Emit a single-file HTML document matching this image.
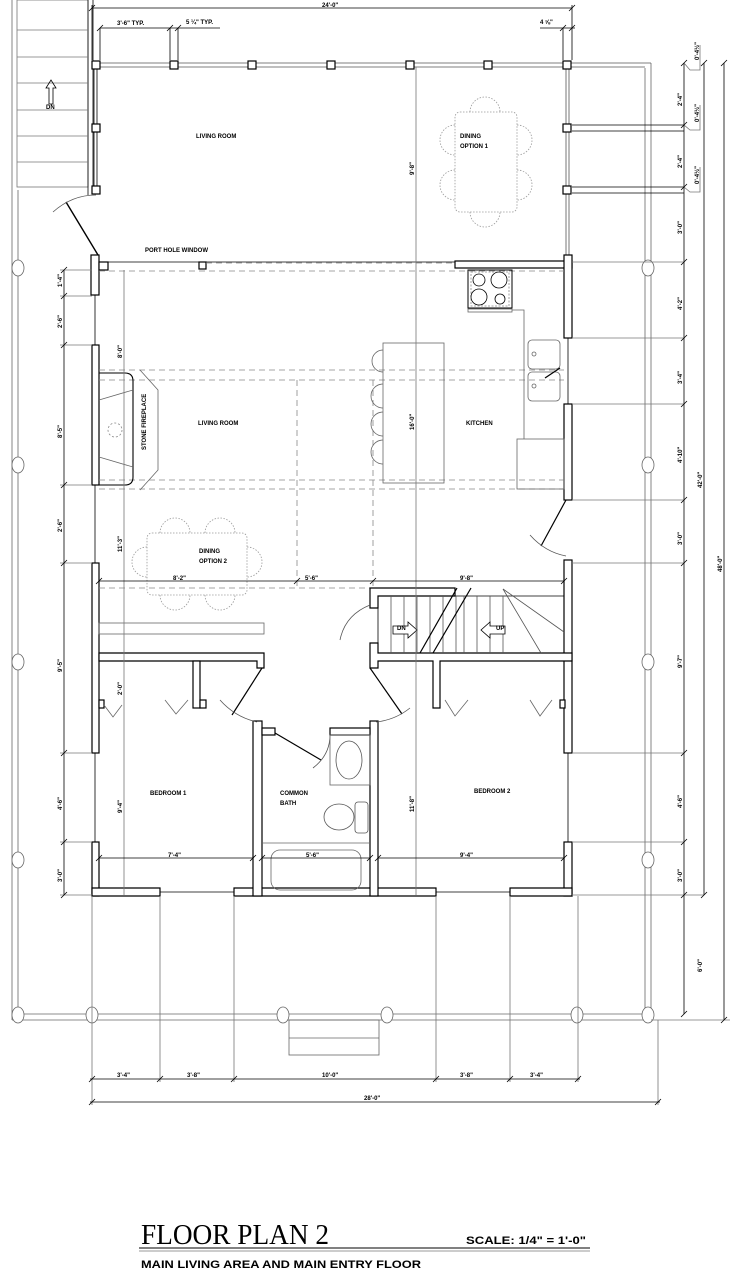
<!DOCTYPE html>
<html><head><meta charset="utf-8"><style>
html,body{margin:0;padding:0;background:#fff;}
svg{display:block;}
text{font-family:"Liberation Sans",sans-serif;font-weight:bold;fill:#000;}
</style></head><body>
<svg width="735" height="1270" viewBox="0 0 735 1270" xmlns="http://www.w3.org/2000/svg">
<defs>
<g id="tk"><line x1="-3" y1="3" x2="3" y2="-3" stroke="#000" stroke-width="0.8"/></g>
</defs>
<g fill="none" stroke="#000" stroke-width="0.8">
<rect x="17" y="0" width="71" height="187" stroke="#777"/>
<line x1="88" y1="0" x2="88" y2="195"/><line x1="93" y1="0" x2="93" y2="190"/>
<g stroke="#777"><line x1="17" y1="30" x2="88" y2="30"/><line x1="17" y1="57" x2="88" y2="57"/><line x1="17" y1="83" x2="88" y2="83"/><line x1="17" y1="110" x2="88" y2="110"/><line x1="17" y1="136" x2="88" y2="136"/><line x1="17" y1="162" x2="88" y2="162"/></g>
<path d="M49 104 V88 H46 L51 80 L56 88 H53 V104 Z"/>
<line x1="12" y1="0" x2="12" y2="1020" stroke="#666"/><line x1="18" y1="190" x2="18" y2="1014" stroke="#666"/>
<line x1="645" y1="68" x2="645" y2="1014" stroke="#666"/><line x1="651" y1="63" x2="651" y2="1020" stroke="#666"/>
<line x1="12" y1="1020" x2="651" y2="1020" stroke="#666"/><line x1="18" y1="1014" x2="645" y2="1014" stroke="#666"/>
<rect x="289" y="1020" width="90" height="35" stroke="#666"/><line x1="289" y1="1038" x2="379" y2="1038" stroke="#666"/>
<g fill="#fff" stroke="#666">
<ellipse cx="18" cy="268" rx="6" ry="8"/><ellipse cx="18" cy="465" rx="6" ry="8"/><ellipse cx="18" cy="662" rx="6" ry="8"/><ellipse cx="18" cy="860" rx="6" ry="8"/><ellipse cx="18" cy="1015" rx="6" ry="8"/>
<ellipse cx="648" cy="268" rx="6" ry="8"/><ellipse cx="648" cy="465" rx="6" ry="8"/><ellipse cx="648" cy="662" rx="6" ry="8"/><ellipse cx="648" cy="860" rx="6" ry="8"/><ellipse cx="648" cy="1015" rx="6" ry="8"/>
<ellipse cx="92" cy="1015" rx="6" ry="8"/><ellipse cx="283" cy="1015" rx="6" ry="8"/><ellipse cx="387" cy="1015" rx="6" ry="8"/><ellipse cx="577" cy="1015" rx="6" ry="8"/>
</g>
<line x1="96" y1="63" x2="651" y2="63" stroke="#555"/><line x1="96" y1="67" x2="645" y2="67" stroke="#555"/>
<line x1="94" y1="65" x2="94" y2="192"/><line x1="97" y1="65" x2="97" y2="192"/>
<line x1="566" y1="65" x2="566" y2="260" stroke="#555"/><line x1="569" y1="65" x2="569" y2="260" stroke="#555"/>
<line x1="572" y1="125" x2="684" y2="125"/><line x1="572" y1="131" x2="684" y2="131"/>
<line x1="572" y1="187" x2="684" y2="187"/><line x1="572" y1="193" x2="684" y2="193"/>
<g fill="#fff" stroke-width="1.2">
<rect x="92" y="61" width="8" height="8"/><rect x="170" y="61" width="8" height="8"/><rect x="248" y="61" width="8" height="8"/><rect x="327" y="61" width="8" height="8"/><rect x="406" y="61" width="8" height="8"/><rect x="484" y="61" width="8" height="8"/><rect x="563" y="61" width="8" height="8"/>
<rect x="92" y="124" width="8" height="8"/><rect x="92" y="186" width="8" height="8"/>
<rect x="563" y="124" width="8" height="8"/><rect x="563" y="186" width="8" height="8"/>
</g>
<g stroke="#999" stroke-dasharray="1.5,1.5">
<rect x="455" y="112" width="62" height="100" rx="5"/>
<path d="M470 112 A15 15 0 0 1 500 112"/><path d="M470 212 A15 15 0 0 0 500 212"/>
<path d="M455 125 A15 15 0 0 0 455 155"/><path d="M455 170 A15 15 0 0 0 455 200"/>
<path d="M517 125 A15 15 0 0 1 517 155"/><path d="M517 170 A15 15 0 0 1 517 200"/>
</g>
<line x1="98" y1="255" x2="66" y2="202" stroke-width="1.4"/>
<path d="M53 212 Q72 195 96 195" stroke="#555"/>
</g>
<g fill="#fff" stroke="#000" stroke-width="1.2">
<rect x="91" y="255" width="8" height="40"/><rect x="99" y="262" width="9" height="8"/>
<rect x="92" y="345" width="7" height="140"/><rect x="92" y="563" width="7" height="190"/><rect x="92" y="842" width="7" height="54"/>
<rect x="455" y="261" width="117" height="7"/>
<rect x="564" y="255" width="8" height="83"/><rect x="564" y="404" width="8" height="96"/><rect x="564" y="560" width="8" height="193"/><rect x="564" y="842" width="8" height="54"/>
<path d="M92 888 H160 V896 H92 Z"/><path d="M234 888 H436 V896 H234 Z"/><path d="M510 888 H572 V896 H510 Z"/>
<rect x="199" y="262" width="7" height="7"/>
</g>
<g fill="none" stroke="#000" stroke-width="0.8">
<line x1="95" y1="295" x2="95" y2="345"/><line x1="95" y1="485" x2="95" y2="563"/><line x1="95" y1="753" x2="95" y2="842"/>
<line x1="568" y1="338" x2="568" y2="404"/><line x1="568" y1="753" x2="568" y2="842"/>
<line x1="160" y1="892" x2="234" y2="892"/><line x1="436" y1="892" x2="510" y2="892"/>
<line x1="108" y1="262" x2="455" y2="262"/>
<g stroke="#888" stroke-dasharray="6,4"><line x1="206" y1="263" x2="455" y2="263"/><line x1="99" y1="271" x2="564" y2="271"/>
<line x1="99" y1="370" x2="564" y2="370"/><line x1="99" y1="380" x2="564" y2="380"/>
<line x1="99" y1="480" x2="564" y2="480"/><line x1="99" y1="489" x2="564" y2="489"/>
<line x1="297" y1="380" x2="297" y2="588"/><line x1="373" y1="380" x2="373" y2="588"/>
<line x1="99" y1="588" x2="373" y2="588"/></g>
<path d="M99 373 H125 Q133 373 133 381 V477 Q133 485 125 485 H99" stroke-width="1.1"/>
<path d="M140 370 L158 390 V470 L140 490" stroke="#666"/>
<line x1="99" y1="400" x2="133" y2="390" stroke="#666"/><line x1="99" y1="457" x2="133" y2="467" stroke="#666"/>
<circle cx="115" cy="430" r="7" stroke="#888" stroke-dasharray="2,2"/>
<rect x="468" y="270" width="44" height="38" stroke-width="1"/>
<rect x="471" y="272" width="38" height="34" stroke="#888" stroke-dasharray="2,1.5"/>
<circle cx="479" cy="280" r="6"/><circle cx="499" cy="280" r="8"/><circle cx="479" cy="297" r="8"/><circle cx="500" cy="299" r="5"/>
<rect x="468" y="309" width="44" height="3" stroke="#666"/>
<path d="M512 310 H524 V439" stroke="#666"/>
<rect x="528" y="340" width="32" height="29" rx="4" stroke="#666"/><rect x="528" y="372" width="32" height="29" rx="4" stroke="#666"/>
<circle cx="534" cy="354" r="2" stroke="#666"/><circle cx="534" cy="386" r="2" stroke="#666"/>
<path d="M545 378 L560 368" stroke-width="1.2"/>
<rect x="517" y="439" width="47" height="50" stroke="#666"/>
<rect x="383" y="343" width="61" height="140" stroke="#666"/>
<g stroke="#666"><path d="M383 350 A10 10 0 0 0 383 372"/><path d="M383 384 A10 10 0 0 0 383 408"/><path d="M383 412 A10 10 0 0 0 383 436"/><path d="M383 440 A10 10 0 0 0 383 464"/></g>
<line x1="566" y1="500" x2="541" y2="546" stroke-width="1.2"/>
<path d="M530 535 Q545 552 566 556" stroke="#555"/>
<g stroke="#999" stroke-dasharray="1.5,1.5">
<rect x="147" y="533" width="100" height="62" rx="5"/>
<path d="M160 533 A15 15 0 0 1 190 533"/><path d="M205 533 A15 15 0 0 1 235 533"/>
<path d="M160 595 A15 15 0 0 0 190 595"/><path d="M205 595 A15 15 0 0 0 235 595"/>
<path d="M147 547 A15 15 0 0 0 147 577"/><path d="M247 547 A15 15 0 0 1 247 577"/>
</g>
<rect x="99" y="623" width="165" height="11" stroke="#666"/>
</g>
<g fill="#fff" stroke="#000" stroke-width="1.2">
<path d="M99 653 H264 V668 H257 V661 H99 Z"/>
<rect x="193" y="661" width="7" height="47"/><rect x="200" y="700" width="6" height="8"/>
<rect x="99" y="700" width="5" height="8"/>
<path d="M370 588 H455 V596 H378 V608 H370 Z"/>
<path d="M370 643 H378 V653 H572 V661 H440 V708 H433 V661 H378 V668 H370 Z"/>
<rect x="560" y="700" width="5" height="8"/>
<rect x="253" y="721" width="9" height="175"/><rect x="262" y="728" width="13" height="7"/>
<rect x="370" y="721" width="8" height="175"/><rect x="330" y="728" width="40" height="7"/>
</g>
<g fill="none" stroke="#000" stroke-width="0.8">
<line x1="378" y1="596" x2="564" y2="596"/>
<line x1="378" y1="596" x2="378" y2="653"/>
<g stroke="#555"><line x1="391" y1="596" x2="391" y2="653"/><line x1="404" y1="596" x2="404" y2="653"/><line x1="417" y1="596" x2="417" y2="653"/><line x1="430" y1="596" x2="430" y2="653"/><line x1="443" y1="596" x2="443" y2="653"/><line x1="456" y1="596" x2="456" y2="653"/><line x1="464" y1="596" x2="464" y2="653"/><line x1="477" y1="596" x2="477" y2="653"/><line x1="490" y1="596" x2="490" y2="653"/><line x1="503" y1="596" x2="503" y2="653"/>
<line x1="503" y1="589" x2="564" y2="632"/><line x1="503" y1="589" x2="541" y2="653"/></g>
<path d="M457 588 L420 653" stroke-width="1.2"/><path d="M471 588 L433 653" stroke-width="1.2"/>
<path d="M393 626 H408 V622 L417 630 L408 638 V634 H393 Z" fill="#fff"/>
<path d="M505 626 H490 V622 L481 630 L490 638 V634 H505 Z" fill="#fff"/>
<line x1="262" y1="668" x2="232" y2="715" stroke-width="1.2"/><path d="M220 700 Q235 717 257 722" stroke="#555"/>
<line x1="370" y1="668" x2="402" y2="714" stroke-width="1.2"/><path d="M376 722 Q395 720 410 708" stroke="#555"/>
<path d="M370 605 Q345 615 340 640" stroke="#555"/>
<line x1="275" y1="733" x2="321" y2="760" stroke-width="1.2"/><path d="M330 735 Q330 755 313 768" stroke="#555"/>
<g stroke="#666"><path d="M104 705 L113 717 L122 705"/><path d="M165 700 L176 714 L188 700"/><path d="M445 700 L455 716 L468 700"/><path d="M530 700 L540 716 L552 700"/></g>
<rect x="330" y="735" width="40" height="50" stroke="#666"/>
<ellipse cx="349" cy="760" rx="13" ry="19" stroke="#555"/>
<rect x="355" y="802" width="13" height="31" rx="3" stroke="#555"/>
<ellipse cx="339" cy="817" rx="15" ry="13" stroke="#555"/>
<line x1="262" y1="843" x2="370" y2="843" stroke="#666"/>
<rect x="271" y="850" width="90" height="40" rx="9" stroke="#666"/>
<line x1="92" y1="8" x2="572" y2="8"/><line x1="92" y1="5" x2="92" y2="60"/><line x1="572" y1="5" x2="572" y2="60"/>
<line x1="100" y1="28" x2="220" y2="28"/><line x1="100" y1="28" x2="100" y2="60"/><line x1="170" y1="28" x2="170" y2="60"/><line x1="178" y1="28" x2="178" y2="60"/>
<line x1="540" y1="28" x2="575" y2="28"/><line x1="563" y1="28" x2="563" y2="60"/>
<line x1="124" y1="270" x2="124" y2="895" stroke="#777"/><line x1="416" y1="67" x2="416" y2="895" stroke="#777"/>
<line x1="64" y1="270" x2="64" y2="895"/>
<g stroke="#777"><line x1="60" y1="270" x2="92" y2="270"/><line x1="60" y1="296" x2="92" y2="296"/><line x1="60" y1="345" x2="92" y2="345"/><line x1="60" y1="485" x2="92" y2="485"/><line x1="60" y1="563" x2="92" y2="563"/><line x1="60" y1="753" x2="92" y2="753"/><line x1="60" y1="842" x2="92" y2="842"/><line x1="60" y1="895" x2="92" y2="895"/></g>
<line x1="99" y1="581" x2="564" y2="581"/>
<line x1="99" y1="858" x2="253" y2="858"/><line x1="262" y1="858" x2="370" y2="858"/><line x1="378" y1="858" x2="564" y2="858"/>
<line x1="684" y1="63" x2="684" y2="1014"/><line x1="704" y1="63" x2="704" y2="895"/><line x1="724" y1="63" x2="724" y2="1020"/>
<g stroke="#777"><line x1="572" y1="262" x2="684" y2="262"/><line x1="572" y1="338" x2="684" y2="338"/><line x1="572" y1="404" x2="684" y2="404"/><line x1="572" y1="500" x2="684" y2="500"/><line x1="572" y1="563" x2="684" y2="563"/><line x1="572" y1="753" x2="684" y2="753"/><line x1="572" y1="842" x2="684" y2="842"/><line x1="572" y1="895" x2="704" y2="895"/><line x1="651" y1="1020" x2="730" y2="1020"/>
<path d="M684 63 L690 70 H700 V45"/><path d="M684 125 L690 130 H700 V105"/><path d="M684 187 L690 192 H700 V167"/></g>
<g stroke="#777"><line x1="92" y1="896" x2="92" y2="1105"/><line x1="160" y1="896" x2="160" y2="1082"/><line x1="234" y1="896" x2="234" y2="1082"/><line x1="436" y1="896" x2="436" y2="1082"/><line x1="510" y1="896" x2="510" y2="1082"/><line x1="578" y1="896" x2="578" y2="1082"/><line x1="658" y1="1020" x2="658" y2="1105"/></g>
<line x1="90" y1="1079" x2="580" y2="1079"/><line x1="90" y1="1102" x2="660" y2="1102"/>
<line x1="139" y1="1248" x2="590" y2="1248" stroke-width="1"/><line x1="139" y1="1251" x2="590" y2="1251" stroke="#999" stroke-width="1"/>
</g>
<g>
<use href="#tk" x="92" y="8"/><use href="#tk" x="572" y="8"/><use href="#tk" x="100" y="28"/><use href="#tk" x="170" y="28"/><use href="#tk" x="178" y="28"/><use href="#tk" x="563" y="28"/><use href="#tk" x="572" y="28"/>
<use href="#tk" x="64" y="270"/><use href="#tk" x="64" y="296"/><use href="#tk" x="64" y="345"/><use href="#tk" x="64" y="485"/><use href="#tk" x="64" y="563"/><use href="#tk" x="64" y="753"/><use href="#tk" x="64" y="842"/><use href="#tk" x="64" y="895"/>
<use href="#tk" x="684" y="63"/><use href="#tk" x="684" y="125"/><use href="#tk" x="684" y="187"/><use href="#tk" x="684" y="262"/><use href="#tk" x="684" y="338"/><use href="#tk" x="684" y="404"/><use href="#tk" x="684" y="500"/><use href="#tk" x="684" y="563"/><use href="#tk" x="684" y="753"/><use href="#tk" x="684" y="842"/><use href="#tk" x="684" y="895"/><use href="#tk" x="684" y="1014"/>
<use href="#tk" x="704" y="63"/><use href="#tk" x="704" y="895"/><use href="#tk" x="724" y="63"/><use href="#tk" x="724" y="1020"/>
<use href="#tk" x="92" y="1079"/><use href="#tk" x="160" y="1079"/><use href="#tk" x="234" y="1079"/><use href="#tk" x="436" y="1079"/><use href="#tk" x="510" y="1079"/><use href="#tk" x="578" y="1079"/><use href="#tk" x="92" y="1102"/><use href="#tk" x="658" y="1102"/>
<use href="#tk" x="99" y="581"/><use href="#tk" x="297" y="581"/><use href="#tk" x="373" y="581"/><use href="#tk" x="564" y="581"/>
<use href="#tk" x="99" y="858"/><use href="#tk" x="253" y="858"/><use href="#tk" x="262" y="858"/><use href="#tk" x="370" y="858"/><use href="#tk" x="378" y="858"/><use href="#tk" x="564" y="858"/>
</g>
<g font-size="6">
<text x="322" y="7">24'-0"</text>
<text x="117" y="25">3'-6" TYP.</text><text x="186" y="24">5 ¼" TYP.</text><text x="540" y="24">4 ⅝"</text>
<text x="46" y="109">DN</text>
<text x="196" y="138">LIVING ROOM</text>
<text x="460" y="138">DINING</text><text x="460" y="148">OPTION 1</text>
<text x="145" y="252">PORT HOLE WINDOW</text>
<text x="198" y="425">LIVING ROOM</text>
<text x="466" y="425">KITCHEN</text>
<text x="199" y="553">DINING</text><text x="199" y="563">OPTION 2</text>
<text x="173" y="580">8'-2"</text><text x="305" y="580">5'-6"</text><text x="460" y="580">9'-8"</text>
<text x="397" y="630">DN</text><text x="496" y="630">UP</text>
<text x="150" y="795">BEDROOM 1</text>
<text x="280" y="795">COMMON</text><text x="280" y="805">BATH</text>
<text x="474" y="793">BEDROOM 2</text>
<text x="168" y="857">7'-4"</text><text x="306" y="857">5'-6"</text><text x="460" y="857">9'-4"</text>
<text x="117" y="1077">3'-4"</text><text x="187" y="1077">3'-8"</text><text x="322" y="1077">10'-0"</text><text x="460" y="1077">3'-8"</text><text x="530" y="1077">3'-4"</text>
<text x="364" y="1100">28'-0"</text>
<text transform="translate(62,287) rotate(-90)">1'-4"</text>
<text transform="translate(62,328) rotate(-90)">2'-6"</text>
<text transform="translate(62,438) rotate(-90)">8'-5"</text>
<text transform="translate(62,532) rotate(-90)">2'-6"</text>
<text transform="translate(62,672) rotate(-90)">9'-5"</text>
<text transform="translate(62,810) rotate(-90)">4'-6"</text>
<text transform="translate(62,882) rotate(-90)">3'-0"</text>
<text transform="translate(122,358) rotate(-90)">8'-0"</text>
<text transform="translate(122,552) rotate(-90)">11'-3"</text>
<text transform="translate(122,813) rotate(-90)">9'-4"</text>
<text transform="translate(122,695) rotate(-90)">2'-0"</text>
<text transform="translate(414,175) rotate(-90)">9'-8"</text>
<text transform="translate(414,430) rotate(-90)">16'-0"</text>
<text transform="translate(414,812) rotate(-90)">11'-8"</text>
<text transform="translate(146,450) rotate(-90)">STONE FIREPLACE</text>
<text transform="translate(682,106) rotate(-90)">2'-4"</text>
<text transform="translate(682,168) rotate(-90)">2'-4"</text>
<text transform="translate(699,60) rotate(-90)">0'-4½"</text>
<text transform="translate(699,122) rotate(-90)">0'-4½"</text>
<text transform="translate(699,184) rotate(-90)">0'-4½"</text>
<text transform="translate(682,234) rotate(-90)">3'-0"</text>
<text transform="translate(682,310) rotate(-90)">4'-2"</text>
<text transform="translate(682,384) rotate(-90)">3'-4"</text>
<text transform="translate(682,463) rotate(-90)">4'-10"</text>
<text transform="translate(682,545) rotate(-90)">3'-0"</text>
<text transform="translate(682,668) rotate(-90)">9'-7"</text>
<text transform="translate(682,808) rotate(-90)">4'-6"</text>
<text transform="translate(682,882) rotate(-90)">3'-0"</text>
<text transform="translate(702,488) rotate(-90)">42'-0"</text>
<text transform="translate(722,572) rotate(-90)">48'-0"</text>
<text transform="translate(702,972) rotate(-90)">6'-0"</text>
</g>
<text x="141" y="1244" style="font-family:'Liberation Serif',serif;font-weight:normal" font-size="29" textLength="188" lengthAdjust="spacingAndGlyphs">FLOOR PLAN 2</text>
<text x="466" y="1244" font-size="11" textLength="120" lengthAdjust="spacingAndGlyphs">SCALE: 1/4" = 1'-0"</text>
<text x="141" y="1268" font-size="11" textLength="280" lengthAdjust="spacingAndGlyphs">MAIN LIVING AREA AND MAIN ENTRY FLOOR</text>
</svg>
</body></html>
